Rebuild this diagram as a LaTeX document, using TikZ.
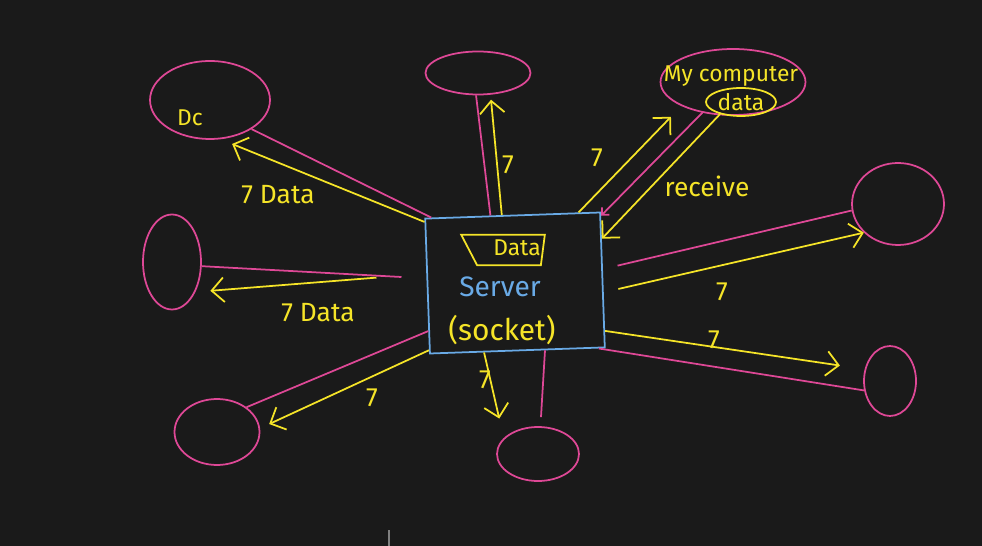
\documentclass[tikz,border=0pt]{standalone}
\usepackage{fontspec}
\setmainfont{Fira Sans}
\usetikzlibrary{shapes.geometric,arrows.meta}
\definecolor{board}{RGB}{26,26,26}
\definecolor{penpink}{RGB}{222,72,150}
\definecolor{penyellow}{RGB}{245,228,40}
\definecolor{penblue}{RGB}{105,170,230}
\begin{document}
\begin{tikzpicture}[
			x=0.02cm, y=-0.02cm,
			every node/.style={font=\fontsize{15}{17}\selectfont, text=penyellow},
			blob/.style={draw=penpink, ellipse, line width=1pt, inner sep=0pt},
			wire/.style={draw=penpink, line width=1pt},
			flow/.style={draw=penyellow, line width=1pt, -{Straight Barb[length=7pt,width=14pt]}}
			]
			
			% Board
			\fill[board] (0,0) rectangle (982,546);
			\useasboundingbox (0,0) rectangle (982,546);
			\draw[gray, line width=0.6pt] (389,530) -- (389,546);
			
			% Server
			\node (server) [draw=penblue, line width=1pt, minimum width=3.5cm, minimum height=2.7cm, rotate=2] at (515,283) {};
			\node (datatag) [minimum width=1.66cm, minimum height=0.6cm, inner sep=0pt] at (503,250) {};
			\draw[penyellow, line width=1pt] (datatag.north west) -- (datatag.north east) -- ([xshift=-0.08cm]datatag.south east) -- ([xshift=0.32cm]datatag.south west) -- cycle;
			\node (datatext) [font=\fontsize{13}{15}\selectfont] at (517,248) {Data};
			\node (servertext) [text=penblue, font=\fontsize{16}{18}\selectfont] at (500,287) {Server};
			\node (sockettext) [font=\fontsize{17}{19}\selectfont] at (502,330) {(socket)};
			
			% Dc
			\node (dc) [blob, minimum width=2.4cm, minimum height=1.56cm] at (210,100) {};
			\node (dctext) [font=\fontsize{13}{15}\selectfont] at (190,118) {Dc};
			\draw[wire] (server.140) -- (dc.-35);
			\draw[flow, shorten >=0.25cm] (server.144) -- (dc.-75);
			\node (dclabel) at (278,195) {7 Data};
			
			% Top
			\node (topn) [blob, minimum width=2.1cm, minimum height=0.86cm] at (478,73) {};
			\draw[wire] (server.108) -- (topn.-95);
			\draw[flow, shorten >=0.1cm] (server.99) -- (topn.-60);
			\node (toplabel) at (508,165) {7};
			
			% My computer
			\node (mycomp) [blob, minimum width=2.9cm, minimum height=1.32cm] at (733,82) {};
			\node (mycomptext) [font=\fontsize{13}{15}\selectfont] at (731,76) {My computer};
			\node (datanode) [draw=penyellow, ellipse, line width=1pt, inner sep=0pt, minimum width=1.4cm, minimum height=0.56cm, font=\fontsize{13}{15}\selectfont] at (741,102) {data};
			\draw[flow, shorten >=0.3cm] (server.46) -- (mycomp.205);
			\node (sendlabel) at (597,158) {7};
			\draw[wire, -{Straight Barb[length=3pt,width=6pt]}] (mycomp.-135) -- (server.36);
			\draw[flow] (datanode.-150) -- (server.25);
			\node (receivelabel) at (707,186) {receive};
			
			% Right
			\node (rightn) [blob, minimum width=1.84cm, minimum height=1.64cm] at (898,204) {};
			\draw[wire, shorten <=0.3cm] (server.7) -- (rightn.188);
			\draw[flow, shorten <=0.3cm] (server.-8) -- (rightn.220);
			\node (rightlabel) at (722,292) {7};
			
			% Lower right
			\node (lrn) [blob, minimum width=1.04cm, minimum height=1.4cm] at (890,381) {};
			\draw[flow, shorten >=0.5cm] (server.-30) -- (lrn.155);
			\node (lrlabel) at (714,340) {7};
			\draw[wire] (server.-40) -- (lrn.200);
			
			% Left
			\node (leftn) [blob, minimum width=1.16cm, minimum height=1.9cm] at (172,262) {};
			\draw[wire, shorten <=0.5cm] (server.175) -- (leftn.-8);
			\draw[flow, shorten <=1cm, shorten >=0.3cm] (server.172) -- (leftn.-52);
			\node (leftlabel) at (318,313) {7 Data};
			
			% Bottom left
			\node (bln) [blob, minimum width=1.7cm, minimum height=1.32cm] at (217,432) {};
			\draw[wire] (server.207) -- (bln.40);
			\draw[flow, shorten >=0.2cm] (server.216) -- (bln.5);
			\node (bllabel) at (372,398) {7};
			
			% Bottom
			\node (botn) [blob, minimum width=1.64cm, minimum height=1.08cm] at (538,454) {};
			\draw[flow, shorten >=0.4cm] (server.-116) -- (botn.155);
			\node (botlabel) at (485,380) {7};
			\draw[wire, shorten >=0.18cm] (server.-68) -- (botn.85);
		\end{tikzpicture}
\end{document}
